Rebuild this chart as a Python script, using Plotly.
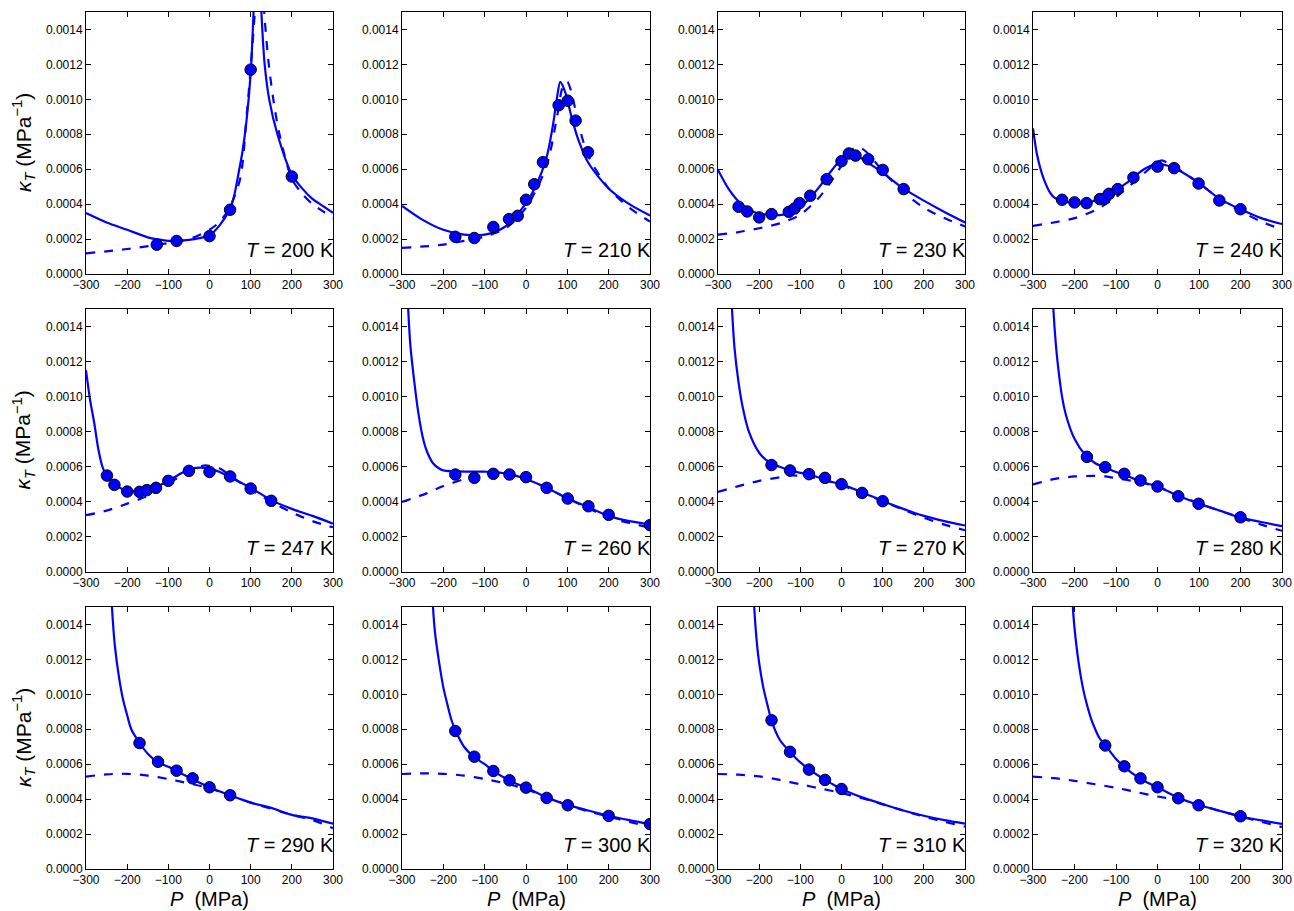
import plotly.graph_objects as go

# ---------------- data ----------------
TEMPS = [200, 210, 230, 240, 247, 260, 270, 280, 290, 300, 310, 320]
X_TICKS = [-300, -200, -100, 0, 100, 200, 300]
Y_TICKS = [0.0, 0.0002, 0.0004, 0.0006, 0.0008, 0.0010, 0.0012, 0.0014]

# T = 200 K
P_PTS_200 = [-128, -80, 0, 50, 100, 200]
K_PTS_200 = [0.000168, 0.000189, 0.000217, 0.000368, 0.00117, 0.000558]
P_SOL_200 = [-300, -250, -200, -150, -125, -100, -75, -50, -25, 0, 25, 50, 60, 70, 80, 90, 100, 107, 116, 126, 134, 145, 165, 200, 225, 250, 275, 300]
K_SOL_200 = [0.000349, 0.000295, 0.000253, 0.00021, 0.000198, 0.00019, 0.00019, 0.000195, 0.000205, 0.000222, 0.00028, 0.000375, 0.00045, 0.00057, 0.0007, 0.00088, 0.00115, 0.0015, 0.0021, 0.0015, 0.0012, 0.001, 0.0008, 0.00057, 0.00049, 0.00043, 0.00039, 0.00035]
P_DSH_200 = [-300, -200, -100, -50, 0, 25, 50, 75, 90, 100, 110, 122, 133, 144, 155, 170, 200, 225, 250, 275, 300]
K_DSH_200 = [0.000118, 0.000143, 0.000177, 0.0002, 0.000253, 0.0003, 0.000385, 0.00055, 0.0009, 0.00118, 0.0015, 0.0021, 0.0015, 0.0012, 0.001, 0.0008, 0.000545, 0.00046, 0.0004, 0.00036, 0.00032]

# T = 210 K
P_PTS_210 = [-171, -125, -79, -41, -20, 0, 20, 41, 79, 101, 120, 150]
K_PTS_210 = [0.000213, 0.000206, 0.000269, 0.000314, 0.000333, 0.000425, 0.000514, 0.00064, 0.000966, 0.000992, 0.000878, 0.000697]
P_SOL_210 = [-300, -250, -200, -150, -100, -50, 0, 25, 50, 65, 75, 83, 95, 110, 125, 150, 200, 250, 300]
K_SOL_210 = [0.00039, 0.00031, 0.000253, 0.000225, 0.000225, 0.000272, 0.000406, 0.00051, 0.00067, 0.00085, 0.00101, 0.0011, 0.00104, 0.0009, 0.00078, 0.00064, 0.00049, 0.0004, 0.000335]
P_DSH_210 = [-300, -200, -150, -100, -50, 0, 50, 75, 90, 100, 110, 125, 150, 200, 250, 300]
K_DSH_210 = [0.000149, 0.000168, 0.00019, 0.000215, 0.00026, 0.00038, 0.00062, 0.0009, 0.00108, 0.0011, 0.00104, 0.00088, 0.00068, 0.00049, 0.00038, 0.0003]

# T = 230 K
P_PTS_230 = [-250, -229, -200, -170, -128, -114, -102, -76, -36, 0, 18, 34, 65, 100, 151]
K_PTS_230 = [0.000385, 0.000358, 0.000324, 0.000343, 0.000356, 0.000375, 0.000406, 0.000448, 0.000543, 0.000646, 0.00069, 0.000678, 0.000657, 0.000596, 0.000486]
P_SOL_230 = [-300, -275, -250, -225, -200, -175, -150, -125, -100, -75, -50, -25, 0, 15, 25, 50, 75, 100, 150, 200, 250, 300]
K_SOL_230 = [0.000596, 0.00049, 0.000415, 0.00037, 0.000345, 0.00034, 0.000337, 0.00035, 0.000385, 0.00044, 0.00051, 0.00059, 0.00066, 0.00069, 0.000688, 0.00066, 0.00062, 0.00058, 0.00049, 0.00042, 0.000355, 0.000295]
P_DSH_230 = [-300, -250, -200, -150, -100, -50, 0, 25, 40, 60, 100, 150, 200, 250, 300]
K_DSH_230 = [0.000225, 0.00024, 0.000262, 0.00029, 0.00034, 0.00045, 0.00062, 0.00071, 0.000728, 0.0007, 0.00059, 0.00047, 0.00038, 0.00032, 0.000272]

# T = 240 K
P_PTS_240 = [-230, -200, -171, -139, -127, -117, -96, -58, 0, 40, 99, 149, 200]
K_PTS_240 = [0.000425, 0.00041, 0.000406, 0.000429, 0.000432, 0.000459, 0.000486, 0.000552, 0.000615, 0.000606, 0.000518, 0.000421, 0.000371]
P_SOL_240 = [-300, -290, -275, -260, -250, -225, -200, -175, -150, -125, -100, -75, -50, -25, 0, 25, 50, 100, 150, 200, 250, 300]
K_SOL_240 = [0.000834, 0.00068, 0.00055, 0.00047, 0.00044, 0.000415, 0.000405, 0.000405, 0.00042, 0.00044, 0.00048, 0.00052, 0.00057, 0.00061, 0.00063, 0.00062, 0.000595, 0.00052, 0.00043, 0.00037, 0.00032, 0.000286]
P_DSH_240 = [-300, -250, -200, -150, -100, -50, 0, 10, 50, 100, 150, 200, 250, 300]
K_DSH_240 = [0.000276, 0.000295, 0.00032, 0.000365, 0.00044, 0.00054, 0.00064, 0.00065, 0.0006, 0.00052, 0.00043, 0.00036, 0.0003, 0.000255]

# T = 247 K
P_PTS_247 = [-249, -231, -200, -170, -152, -130, -100, -50, 0, 50, 100, 150]
K_PTS_247 = [0.00055, 0.000497, 0.000459, 0.000457, 0.000467, 0.00048, 0.00052, 0.000577, 0.000571, 0.000545, 0.000476, 0.000406]
P_SOL_247 = [-300, -290, -280, -270, -260, -250, -225, -200, -175, -150, -125, -100, -75, -50, -25, 0, 25, 50, 100, 150, 200, 250, 300]
K_SOL_247 = [0.00115, 0.00098, 0.00085, 0.0007, 0.0006, 0.00055, 0.00049, 0.000465, 0.00046, 0.000468, 0.00049, 0.00052, 0.000555, 0.000585, 0.000595, 0.00059, 0.00057, 0.00054, 0.00048, 0.00041, 0.00036, 0.00032, 0.000276]
P_DSH_247 = [-300, -250, -200, -150, -100, -50, -25, -10, 0, 25, 50, 100, 150, 200, 250, 300]
K_DSH_247 = [0.000324, 0.00035, 0.00039, 0.000435, 0.000505, 0.000575, 0.0006, 0.000608, 0.000605, 0.00059, 0.00055, 0.00047, 0.0004, 0.00034, 0.00029, 0.000255]

# T = 260 K
P_PTS_260 = [-171, -125, -79, -40, 0, 50, 101, 151, 200, 300]
K_PTS_260 = [0.000556, 0.000537, 0.00056, 0.000556, 0.000541, 0.00048, 0.000419, 0.000375, 0.000326, 0.000267]
P_SOL_260 = [-292, -285, -280, -270, -260, -250, -240, -225, -210, -200, -175, -150, -125, -100, -75, -50, -25, 0, 50, 100, 150, 200, 250, 300]
K_SOL_260 = [0.0019, 0.0015, 0.0013, 0.00108, 0.0009, 0.00077, 0.00069, 0.00062, 0.00059, 0.00058, 0.000575, 0.000573, 0.000573, 0.000572, 0.00057, 0.000562, 0.00055, 0.00053, 0.00048, 0.00042, 0.00037, 0.00032, 0.00029, 0.000272]
P_DSH_260 = [-300, -250, -200, -150, -125, -100, -75, -50, 0, 50, 100, 150, 200, 250, 300]
K_DSH_260 = [0.0004, 0.00044, 0.00049, 0.00053, 0.00055, 0.000562, 0.000565, 0.00056, 0.00053, 0.00048, 0.00042, 0.000365, 0.00031, 0.00028, 0.000253]

# T = 270 K
P_PTS_270 = [-170, -125, -79, -40, 0, 50, 100]
K_PTS_270 = [0.00061, 0.000579, 0.000558, 0.000537, 0.000501, 0.000451, 0.000404]
P_SOL_270 = [-272, -266, -260, -250, -240, -225, -200, -175, -150, -125, -100, -75, -50, -25, 0, 50, 100, 150, 200, 250, 300]
K_SOL_270 = [0.0018, 0.0015, 0.00128, 0.00108, 0.00094, 0.0008, 0.00068, 0.000625, 0.0006, 0.00058, 0.000565, 0.000553, 0.000535, 0.000515, 0.0005, 0.000455, 0.000405, 0.00036, 0.00032, 0.00029, 0.000265]
P_DSH_270 = [-300, -250, -200, -150, -125, -100, -75, -50, 0, 50, 100, 150, 200, 250, 300]
K_DSH_270 = [0.000457, 0.00049, 0.00052, 0.00054, 0.00055, 0.000548, 0.00054, 0.00053, 0.000495, 0.00045, 0.000405, 0.000355, 0.00031, 0.00027, 0.000238]

# T = 280 K
P_PTS_280 = [-170, -126, -80, -41, 0, 50, 99, 200]
K_PTS_280 = [0.000657, 0.000598, 0.00056, 0.000522, 0.000488, 0.000432, 0.000389, 0.000312]
P_SOL_280 = [-257, -251, -245, -240, -230, -220, -200, -175, -150, -125, -100, -75, -50, -25, 0, 50, 100, 150, 200, 250, 300]
K_SOL_280 = [0.0018, 0.0015, 0.0013, 0.00118, 0.001, 0.00089, 0.00076, 0.00067, 0.00062, 0.000595, 0.00057, 0.00055, 0.000525, 0.000505, 0.000488, 0.000435, 0.00039, 0.00035, 0.00031, 0.000285, 0.000261]
P_DSH_280 = [-300, -250, -200, -150, -125, -100, -50, 0, 50, 100, 150, 200, 250, 300]
K_DSH_280 = [0.000499, 0.00053, 0.000545, 0.000548, 0.000545, 0.000535, 0.000515, 0.000485, 0.00044, 0.00039, 0.00035, 0.00031, 0.00027, 0.000235]

# T = 290 K
P_PTS_290 = [-170, -125, -80, -41, 0, 50]
K_PTS_290 = [0.000721, 0.000614, 0.000563, 0.000519, 0.000468, 0.000422]
P_SOL_290 = [-243, -237, -230, -220, -210, -200, -190, -175, -150, -125, -100, -75, -50, -25, 0, 50, 100, 150, 200, 250, 300]
K_SOL_290 = [0.0018, 0.0015, 0.00128, 0.0011, 0.00097, 0.00088, 0.0008, 0.00074, 0.00066, 0.00061, 0.000585, 0.000555, 0.000525, 0.000495, 0.000468, 0.000422, 0.00038, 0.00035, 0.00031, 0.00029, 0.000259]
P_DSH_290 = [-300, -250, -200, -150, -100, -50, 0, 50, 100, 150, 200, 250, 300]
K_DSH_290 = [0.000529, 0.000542, 0.000545, 0.000535, 0.000515, 0.00049, 0.000462, 0.00042, 0.00038, 0.000345, 0.00031, 0.00028, 0.000234]

# T = 300 K
P_PTS_300 = [-171, -125, -79, -40, 0, 50, 101, 200, 300]
K_PTS_300 = [0.00079, 0.000643, 0.000561, 0.000508, 0.000466, 0.000407, 0.000365, 0.000304, 0.000257]
P_SOL_300 = [-230, -225, -220, -210, -200, -190, -180, -170, -150, -125, -100, -75, -50, -25, 0, 50, 100, 150, 200, 250, 300]
K_SOL_300 = [0.0018, 0.0015, 0.00135, 0.00118, 0.00104, 0.00094, 0.00085, 0.00079, 0.0007, 0.00064, 0.0006, 0.000555, 0.00052, 0.00049, 0.000466, 0.00041, 0.000367, 0.000335, 0.000305, 0.00028, 0.000257]
P_DSH_300 = [-300, -250, -200, -150, -100, -50, 0, 50, 100, 150, 200, 250, 300]
K_DSH_300 = [0.000544, 0.000548, 0.000545, 0.000535, 0.000515, 0.00049, 0.000458, 0.00041, 0.000367, 0.00033, 0.0003, 0.00027, 0.00024]

# T = 310 K
P_PTS_310 = [-170, -125, -79, -40, 0]
K_PTS_310 = [0.000852, 0.000671, 0.000569, 0.00051, 0.000458]
P_SOL_310 = [-217, -212, -205, -200, -190, -180, -170, -150, -125, -100, -75, -50, -25, 0, 50, 100, 150, 200, 250, 300]
K_SOL_310 = [0.0018, 0.0015, 0.00128, 0.00118, 0.00104, 0.00094, 0.00085, 0.00074, 0.00067, 0.00061, 0.000565, 0.000525, 0.00049, 0.000458, 0.00041, 0.000372, 0.000335, 0.000305, 0.00028, 0.00026]
P_DSH_310 = [-300, -250, -200, -150, -100, -50, 0, 50, 100, 150, 200, 250, 300]
K_DSH_310 = [0.000544, 0.00054, 0.00053, 0.00051, 0.000485, 0.00046, 0.000435, 0.000405, 0.00037, 0.000335, 0.0003, 0.00027, 0.000243]

# T = 320 K
P_PTS_320 = [-126, -80, -41, 0, 50, 99, 200]
K_PTS_320 = [0.000707, 0.000588, 0.000519, 0.000468, 0.000405, 0.000365, 0.000302]
P_SOL_320 = [-209, -204, -200, -190, -180, -170, -160, -150, -140, -125, -100, -75, -50, -25, 0, 50, 100, 150, 200, 250, 300]
K_SOL_320 = [0.0018, 0.0015, 0.00138, 0.00118, 0.00104, 0.00094, 0.00086, 0.0008, 0.00075, 0.000707, 0.00063, 0.000575, 0.00053, 0.000495, 0.000468, 0.000408, 0.000366, 0.000333, 0.000302, 0.000278, 0.000258]
P_DSH_320 = [-300, -250, -200, -150, -100, -50, 0, 50, 100, 150, 200, 250, 300]
K_DSH_320 = [0.000529, 0.00052, 0.000505, 0.000485, 0.000465, 0.00044, 0.000415, 0.000395, 0.000365, 0.000333, 0.0003, 0.00027, 0.00024]

PANELS = [
    (P_PTS_200, K_PTS_200, P_SOL_200, K_SOL_200, P_DSH_200, K_DSH_200),
    (P_PTS_210, K_PTS_210, P_SOL_210, K_SOL_210, P_DSH_210, K_DSH_210),
    (P_PTS_230, K_PTS_230, P_SOL_230, K_SOL_230, P_DSH_230, K_DSH_230),
    (P_PTS_240, K_PTS_240, P_SOL_240, K_SOL_240, P_DSH_240, K_DSH_240),
    (P_PTS_247, K_PTS_247, P_SOL_247, K_SOL_247, P_DSH_247, K_DSH_247),
    (P_PTS_260, K_PTS_260, P_SOL_260, K_SOL_260, P_DSH_260, K_DSH_260),
    (P_PTS_270, K_PTS_270, P_SOL_270, K_SOL_270, P_DSH_270, K_DSH_270),
    (P_PTS_280, K_PTS_280, P_SOL_280, K_SOL_280, P_DSH_280, K_DSH_280),
    (P_PTS_290, K_PTS_290, P_SOL_290, K_SOL_290, P_DSH_290, K_DSH_290),
    (P_PTS_300, K_PTS_300, P_SOL_300, K_SOL_300, P_DSH_300, K_DSH_300),
    (P_PTS_310, K_PTS_310, P_SOL_310, K_SOL_310, P_DSH_310, K_DSH_310),
    (P_PTS_320, K_PTS_320, P_SOL_320, K_SOL_320, P_DSH_320, K_DSH_320),
]

# ---------------- layout ----------------
W, H = 1294, 911
COL_PX = [(86, 333), (402, 650), (718, 965), (1033, 1282)]
ROW_PX = [(12, 274), (309, 572), (607, 869)]
BLUE = "#0000ff"
TICK_FONT = dict(family="Liberation Sans, Arial", size=12, color="black")
TITLE_FONT = dict(family="Liberation Sans, Arial", size=21, color="black")
TLABEL_FONT = dict(family="Liberation Sans, Arial", size=20, color="black")

fig = go.Figure()
annotations = []
layout = dict(
    width=W, height=H, margin=dict(l=0, r=0, t=0, b=0, autoexpand=False),
    paper_bgcolor="white", plot_bgcolor="white", showlegend=False,
)

for i, (T, panel) in enumerate(zip(TEMPS, PANELS)):
    r, c = divmod(i, 4)
    n = "" if i == 0 else str(i + 1)
    xa, ya = "x" + n, "y" + n
    pp, kp, ps, ks, pd, kd = panel
    fig.add_trace(go.Scatter(x=pd, y=kd, mode="lines", xaxis=xa, yaxis=ya,
                             line=dict(color=BLUE, width=2.2, dash="dash", shape="spline", smoothing=0.8)))
    fig.add_trace(go.Scatter(x=ps, y=ks, mode="lines", xaxis=xa, yaxis=ya,
                             line=dict(color=BLUE, width=2.2, shape="spline", smoothing=0.8)))
    fig.add_trace(go.Scatter(x=pp, y=kp, mode="markers", xaxis=xa, yaxis=ya,
                             marker=dict(color=BLUE, size=11.5, line=dict(color="black", width=1))))
    x0, x1 = COL_PX[c]
    y0, y1 = ROW_PX[r]
    axcommon = dict(showgrid=False, zeroline=False, showline=True, linecolor="black", linewidth=1,
                    mirror="ticks", ticks="inside", ticklen=5, tickcolor="black", tickfont=TICK_FONT,
                    automargin=False)
    layout["xaxis" + n] = dict(axcommon, domain=[x0 / W, x1 / W], range=[-300, 300],
                               tickvals=X_TICKS, anchor=ya)
    layout["yaxis" + n] = dict(axcommon, domain=[1 - y1 / H, 1 - y0 / H], range=[0, 0.0015],
                               tickvals=Y_TICKS, tickformat=".4f", anchor=xa)
    annotations.append(dict(
        text="<i>T</i> = %d K" % T, xref=xa + " domain", yref=ya + " domain",
        x=1.0, y=0.0, xanchor="right", yanchor="bottom", yshift=11, xshift=3,
        showarrow=False, font=TLABEL_FONT))
    if c == 0:
        annotations.append(dict(
            text="<i>κ</i><sub><i>T</i></sub> (MPa<sup>−1</sup>)", xref="paper", yref="paper",
            x=23 / W, y=1 - (y0 + y1) / 2 / H, xanchor="center", yanchor="middle",
            textangle=-90, showarrow=False, font=TITLE_FONT))
    if r == 2:
        annotations.append(dict(
            text="<i>P</i>  (MPa)", xref="paper", yref="paper",
            x=(x0 + x1) / 2 / W, y=1 - 899 / H, xanchor="center", yanchor="middle",
            showarrow=False, font=dict(TITLE_FONT, size=20)))

layout["annotations"] = annotations
fig.update_layout(**layout)
fig.write_html("out.html", config={"displayModeBar": False},
               post_script="document.body.style.margin='0';")
